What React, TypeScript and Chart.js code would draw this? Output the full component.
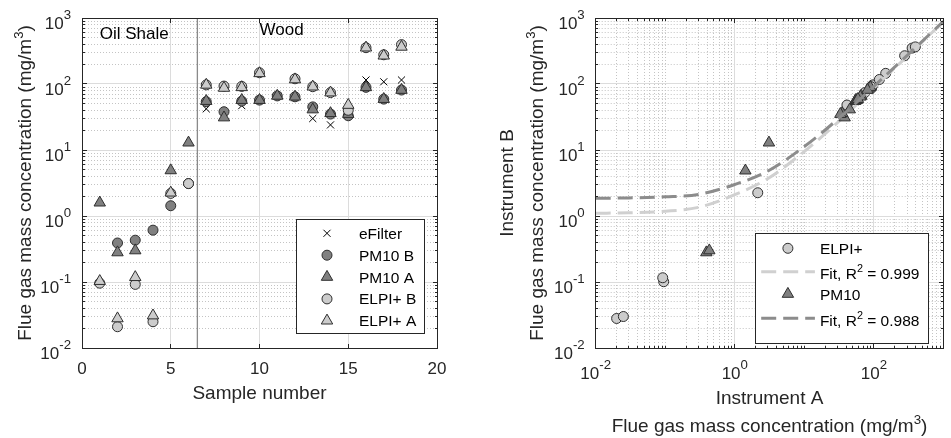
import React, { useEffect, useRef } from "react";
import { Chart, registerables } from "chart.js";
import { drawPoint } from "chart.js/helpers";

Chart.register(...registerables);

// ---------------- data ----------------
const sampleNumbers = [1, 2, 3, 4, 5, 6, 7, 8, 9, 10, 11, 12, 13, 14, 15, 16, 17, 18];
const eFilterValues = [null, null, null, null, null, null, 42, 33, 47, 57, 66, 62, 30, 24, 34, 115, 108, 115];
const pm10BValues = [null, 0.39, 0.43, 0.61, 1.43, 3.1, 54, 38, 55, 57, 66, 64, 45, 35, 33, 89, 59, 81];
const pm10AValues = [1.59, 0.28, 0.3, null, 4.9, 12.9, 55, 31, 57, 57, 66, 64, 41, 36, 35, 89, 59, 81];
const elpiBValues = [0.096, 0.021, 0.092, 0.025, 2.2, 3.1, 97, 93, 92, 148, null, 120, 91, 74, 40, 355, 277, 395];
const elpiAValues = [0.103, 0.028, 0.118, 0.031, 2.25, null, 97, 87, 89, 145, null, 117, 91, 74, 48, 355, 268, 365];

const elpiInstA = [0.095, 0.02, 0.092, 0.025, 2.14, 97, 93, 92, 148, 120, 91, 74, 41, 355, 277, 395];
const elpiInstB = [0.101, 0.028, 0.116, 0.03, 2.25, 97, 87, 89, 145, 117, 91, 74, 48, 350, 268, 365];
const pm10InstA = [0.39, 0.43, 1.42, 3.1, 54, 38, 55, 57, 66, 64, 45, 35, 33, 89, 59, 81];
const pm10InstB = [0.28, 0.3, 4.86, 12.9, 55, 31, 57, 57, 66, 64, 41, 36, 35, 89, 59, 81];

const fitX = [0.01, 0.03, 0.1, 0.3, 1, 3, 10, 30, 100, 300, 1000];
const fitElpiY = [1.1, 1.12, 1.18, 1.35, 2.1, 3.7, 9.5, 26, 87, 262, 880];
const fitPm10Y = [1.85, 1.88, 1.95, 2.12, 3.0, 4.8, 11.3, 29, 92, 270, 890];

const leftXTickValues = [0, 5, 10, 15, 20];
const decadeExponents = [-2, -1, 0, 1, 2, 3];
const rightXLabelExponents = [-2, 0, 2];
const dividerX = 6.5;
const regionNotes = [
  { text: "Oil Shale", x: 1, y: 600 },
  { text: "Wood", x: 10, y: 680 },
];
const leftLegendLabels = ["eFilter", "PM10 B", "PM10 A", "ELPI+ B", "ELPI+ A"];
const r2Elpi = "0.999";
const r2Pm10 = "0.988";

// ---------------- styles ----------------
const FONT_FAMILY = '"Liberation Sans", Arial, Helvetica, sans-serif';
const AXIS_COLOR = "#262626";
const GRID_MAJOR = "#dcdcdc";
const GRID_MINOR = "#c4c4c4";
const DARK_FILL = "#808080";
const LIGHT_FILL = "#cccccc";
const MARKER_EDGE = "#2e2e2e";
const FIT_LIGHT = "#d0d0d0";
const FIT_DARK = "#8c8c8c";
const TICK_FS = 17;
const LABEL_FS = 19;
const LEGEND_FS = 15.5;
const NOTE_FS = 17;

type Part = { t: string; sup?: boolean };
type MarkerStyle = { pointStyle: string; radius: number; fill: string; edge: string; width: number };

const MK = {
  eFilter: { pointStyle: "crossRot", radius: 5, fill: "rgba(0,0,0,0)", edge: "#000000", width: 1 } as MarkerStyle,
  pm10B: { pointStyle: "circle", radius: 5, fill: DARK_FILL, edge: MARKER_EDGE, width: 1 } as MarkerStyle,
  pm10A: { pointStyle: "triangle", radius: 6.6, fill: DARK_FILL, edge: MARKER_EDGE, width: 1 } as MarkerStyle,
  elpiB: { pointStyle: "circle", radius: 5, fill: LIGHT_FILL, edge: MARKER_EDGE, width: 1 } as MarkerStyle,
  elpiA: { pointStyle: "triangle", radius: 6.6, fill: LIGHT_FILL, edge: MARKER_EDGE, width: 1 } as MarkerStyle,
};
const FIT_DASH = [15, 7];
const FIT_WIDTH = 3;

// ---------------- helpers ----------------
const logMinor = (lo: number, hi: number) => {
  const out: number[] = [];
  for (let e = lo; e < hi; e++) for (let m = 2; m <= 9; m++) out.push(m * Math.pow(10, e));
  return out;
};
const pow10Label = (e: number): Part[] => [{ t: "10" }, { t: String(e), sup: true }];

function setFont(ctx: CanvasRenderingContext2D, fs: number) {
  ctx.font = `${fs}px ${FONT_FAMILY}`;
}
function measureParts(ctx: CanvasRenderingContext2D, parts: Part[], fs: number, supScale: number) {
  let w = 0;
  for (const p of parts) {
    setFont(ctx, p.sup ? fs * supScale : fs);
    w += ctx.measureText(p.t).width;
  }
  return w;
}
function fillParts(
  ctx: CanvasRenderingContext2D,
  parts: Part[],
  x: number,
  y: number,
  align: "left" | "center" | "right",
  fs: number,
  supScale = 0.7,
  supRaise = 0.42
) {
  const w = measureParts(ctx, parts, fs, supScale);
  let cx = align === "left" ? x : align === "center" ? x - w / 2 : x - w;
  ctx.textAlign = "left";
  ctx.textBaseline = "alphabetic";
  for (const p of parts) {
    setFont(ctx, p.sup ? fs * supScale : fs);
    ctx.fillText(p.t, cx, p.sup ? y - fs * supRaise : y);
    cx += ctx.measureText(p.t).width;
  }
}
const snap = (v: number) => Math.floor(v) + 0.5;
function seg(ctx: CanvasRenderingContext2D, x1: number, y1: number, x2: number, y2: number) {
  ctx.beginPath();
  ctx.moveTo(x1, y1);
  ctx.lineTo(x2, y2);
  ctx.stroke();
}
function marker(ctx: CanvasRenderingContext2D, st: MarkerStyle, x: number, y: number) {
  ctx.save();
  ctx.fillStyle = st.fill;
  ctx.strokeStyle = st.edge;
  ctx.lineWidth = st.width;
  drawPoint(ctx, { pointStyle: st.pointStyle as any, radius: st.radius, rotation: 0, borderWidth: st.width }, x, y);
  ctx.restore();
}

type LegendRow = { dy: number; parts: Part[]; marker?: MarkerStyle; line?: { color: string } };
interface FrameSpec {
  xMajor: number[];
  xMinor: number[];
  yMajor: number[];
  yMinor: number[];
  xGridMajor: number[];
  xGridMinor: number[];
  yGridMajor: number[];
  yGridMinor: number[];
  xLabels: { v: number; parts: Part[] }[];
  yLabels: { v: number; parts: Part[] }[];
  xLabelBaseline: number;
  xTitles: { parts: Part[]; dy: number }[];
  yTitles: { parts: Part[]; dx: number }[];
  notes?: { text: string; x: number; y: number }[];
  legend: { right: number; bottom: number; width: number; height: number; markerDx: number; lineFrom: number; lineTo: number; textDx: number; rows: LegendRow[] };
}

function makeFramePlugin(spec: FrameSpec) {
  return {
    id: "matlabFrame",
    beforeDatasetsDraw(chart: any) {
      const { ctx, chartArea: a, scales } = chart;
      const xs = scales.x;
      const ys = scales.y;
      ctx.save();
      ctx.beginPath();
      ctx.rect(a.left, a.top, a.right - a.left, a.bottom - a.top);
      ctx.clip();
      ctx.lineWidth = 1;
      ctx.strokeStyle = GRID_MINOR;
      ctx.setLineDash([1, 2]);
      for (const v of spec.xGridMinor) {
        const p = snap(xs.getPixelForValue(v));
        seg(ctx, p, a.top, p, a.bottom);
      }
      for (const v of spec.yGridMinor) {
        const p = snap(ys.getPixelForValue(v));
        seg(ctx, a.left, p, a.right, p);
      }
      ctx.setLineDash([]);
      ctx.strokeStyle = GRID_MAJOR;
      for (const v of spec.xGridMajor) {
        const p = snap(xs.getPixelForValue(v));
        seg(ctx, p, a.top, p, a.bottom);
      }
      for (const v of spec.yGridMajor) {
        const p = snap(ys.getPixelForValue(v));
        seg(ctx, a.left, p, a.right, p);
      }
      ctx.restore();
    },
    afterDatasetsDraw(chart: any) {
      const { ctx, chartArea: a, scales } = chart;
      const xs = scales.x;
      const ys = scales.y;
      const L = snap(a.left);
      const R = snap(a.right);
      const T = snap(a.top);
      const B = snap(a.bottom);
      ctx.save();
      // notes
      if (spec.notes) {
        ctx.fillStyle = "#000";
        for (const n of spec.notes) {
          fillParts(ctx, [{ t: n.text }], xs.getPixelForValue(n.x), ys.getPixelForValue(n.y) + NOTE_FS * 0.358, "left", NOTE_FS);
        }
      }
      // box and ticks
      ctx.strokeStyle = AXIS_COLOR;
      ctx.lineWidth = 1;
      ctx.setLineDash([]);
      ctx.strokeRect(L, T, R - L, B - T);
      const tick = (vals: number[], len: number) => {
        for (const v of vals) {
          const p = snap(xs.getPixelForValue(v));
          seg(ctx, p, B, p, B - len);
          seg(ctx, p, T, p, T + len);
        }
      };
      const ytick = (vals: number[], len: number) => {
        for (const v of vals) {
          const p = snap(ys.getPixelForValue(v));
          seg(ctx, L, p, L + len, p);
          seg(ctx, R, p, R - len, p);
        }
      };
      tick(spec.xMajor, 4.5);
      tick(spec.xMinor, 2.5);
      ytick(spec.yMajor, 4.5);
      ytick(spec.yMinor, 2.5);
      // tick labels
      ctx.fillStyle = AXIS_COLOR;
      for (const l of spec.xLabels) {
        fillParts(ctx, l.parts, xs.getPixelForValue(l.v), a.bottom + spec.xLabelBaseline, "center", TICK_FS, 0.78, 0.56);
      }
      for (const l of spec.yLabels) {
        fillParts(ctx, l.parts, a.left - 11, ys.getPixelForValue(l.v) + 11, "right", TICK_FS, 0.78, 0.56);
      }
      // axis titles
      const cx = (a.left + a.right) / 2;
      const cy = (a.top + a.bottom) / 2;
      for (const t of spec.xTitles) fillParts(ctx, t.parts, cx, a.bottom + t.dy, "center", LABEL_FS);
      for (const t of spec.yTitles) {
        ctx.save();
        ctx.translate(a.left - t.dx, cy);
        ctx.rotate(-Math.PI / 2);
        fillParts(ctx, t.parts, 0, 0, "center", LABEL_FS);
        ctx.restore();
      }
      // legend
      const lg = spec.legend;
      const bx = a.right - lg.right - lg.width;
      const by = a.bottom - lg.bottom - lg.height;
      ctx.fillStyle = "#ffffff";
      ctx.fillRect(bx, by, lg.width, lg.height);
      ctx.strokeStyle = AXIS_COLOR;
      ctx.lineWidth = 1;
      ctx.strokeRect(snap(bx), snap(by), Math.round(lg.width), Math.round(lg.height));
      for (const row of lg.rows) {
        const ry = by + row.dy;
        if (row.marker) marker(ctx, row.marker, bx + lg.markerDx, ry);
        if (row.line) {
          ctx.save();
          ctx.strokeStyle = row.line.color;
          ctx.lineWidth = FIT_WIDTH;
          ctx.setLineDash(FIT_DASH);
          seg(ctx, bx + lg.lineFrom, ry, bx + lg.lineTo, ry);
          ctx.restore();
        }
        ctx.fillStyle = "#000";
        const hasSup = row.parts.some((p) => p.sup);
        fillParts(ctx, row.parts, bx + lg.textDx, ry + LEGEND_FS * 0.358 + (hasSup ? 2 : 0), "left", LEGEND_FS, 0.7, 0.45);
      }
      ctx.restore();
    },
  };
}

const unitParts: Part[] = [{ t: "Flue gas mass concentration (mg/m" }, { t: "3", sup: true }, { t: ")" }];

function scatterSet(label: string, xs: number[], ys: (number | null)[], st: MarkerStyle, order: number) {
  const data = xs.map((x, i) => ({ x, y: ys[i] })).filter((p) => p.y !== null && p.y !== undefined);
  return {
    label,
    data,
    pointStyle: st.pointStyle,
    pointRadius: st.radius,
    pointBackgroundColor: st.fill,
    pointBorderColor: st.edge,
    pointBorderWidth: st.width,
    showLine: false,
    order,
  };
}

function leftConfig(): any {
  const spec: FrameSpec = {
    xMajor: leftXTickValues,
    xMinor: [],
    yMajor: decadeExponents.map((e) => Math.pow(10, e)),
    yMinor: logMinor(-2, 3),
    xGridMajor: leftXTickValues,
    xGridMinor: [],
    yGridMajor: decadeExponents.map((e) => Math.pow(10, e)),
    yGridMinor: logMinor(-2, 3),
    xLabels: leftXTickValues.map((v) => ({ v, parts: [{ t: String(v) }] })),
    yLabels: decadeExponents.map((e) => ({ v: Math.pow(10, e), parts: pow10Label(e) })),
    xLabelBaseline: 25.8,
    xTitles: [{ parts: [{ t: "Sample number" }], dy: 51.3 }],
    yTitles: [{ parts: unitParts, dx: 51.3 }],
    notes: regionNotes,
    legend: {
      right: 13,
      bottom: 15,
      width: 128,
      height: 114,
      markerDx: 31,
      lineFrom: 0,
      lineTo: 0,
      textDx: 63,
      rows: [
        { dy: 14.3, parts: [{ t: leftLegendLabels[0] }], marker: MK.eFilter },
        { dy: 36.2, parts: [{ t: leftLegendLabels[1] }], marker: MK.pm10B },
        { dy: 58.0, parts: [{ t: leftLegendLabels[2] }], marker: MK.pm10A },
        { dy: 79.9, parts: [{ t: leftLegendLabels[3] }], marker: MK.elpiB },
        { dy: 101.7, parts: [{ t: leftLegendLabels[4] }], marker: MK.elpiA },
      ],
    },
  };
  return {
    type: "scatter",
    data: {
      datasets: [
        scatterSet("ELPI+ A", sampleNumbers, elpiAValues, MK.elpiA, 1),
        scatterSet("ELPI+ B", sampleNumbers, elpiBValues, MK.elpiB, 2),
        scatterSet("PM10 A", sampleNumbers, pm10AValues, MK.pm10A, 3),
        scatterSet("PM10 B", sampleNumbers, pm10BValues, MK.pm10B, 4),
        scatterSet("eFilter", sampleNumbers, eFilterValues, MK.eFilter, 5),
        {
          label: "divider",
          data: [
            { x: dividerX, y: 0.01 },
            { x: dividerX, y: 1000 },
          ],
          showLine: true,
          pointRadius: 0,
          borderColor: "#8a8a8a",
          borderWidth: 1.3,
          order: 6,
        },
      ],
    },
    options: {
      animation: false,
      responsive: false,
      devicePixelRatio: 1,
      events: [],
      layout: { padding: { left: 82, top: 18, right: 33, bottom: 90 } },
      plugins: { legend: { display: false }, tooltip: { enabled: false } },
      scales: {
        x: { type: "linear", min: 0, max: 20, display: false },
        y: { type: "logarithmic", min: 0.01, max: 1000, display: false },
      },
    },
    plugins: [makeFramePlugin(spec)],
  };
}

function rightConfig(): any {
  const xMinorAll = logMinor(-2, 3).concat([0.1, 10, 1000]);
  const spec: FrameSpec = {
    xMajor: rightXLabelExponents.map((e) => Math.pow(10, e)),
    xMinor: xMinorAll,
    yMajor: decadeExponents.map((e) => Math.pow(10, e)),
    yMinor: logMinor(-2, 3),
    xGridMajor: rightXLabelExponents.map((e) => Math.pow(10, e)),
    xGridMinor: xMinorAll,
    yGridMajor: decadeExponents.map((e) => Math.pow(10, e)),
    yGridMinor: logMinor(-2, 3),
    xLabels: rightXLabelExponents.map((e) => ({ v: Math.pow(10, e), parts: pow10Label(e) })),
    yLabels: decadeExponents.map((e) => ({ v: Math.pow(10, e), parts: pow10Label(e) })),
    xLabelBaseline: 30.8,
    xTitles: [
      { parts: [{ t: "Instrument A" }], dy: 56 },
      { parts: unitParts, dy: 84 },
    ],
    yTitles: [
      { parts: [{ t: "Instrument B" }], dx: 82.4 },
      { parts: unitParts, dx: 52.7 },
    ],
    legend: {
      right: 14.5,
      bottom: 4.7,
      width: 173,
      height: 110,
      markerDx: 32,
      lineFrom: 5.3,
      lineTo: 59,
      textDx: 64,
      rows: [
        { dy: 15, parts: [{ t: "ELPI+" }], marker: MK.elpiB },
        { dy: 38.5, parts: [{ t: "Fit, R" }, { t: "2", sup: true }, { t: " = " + r2Elpi }], line: { color: FIT_LIGHT } },
        { dy: 60.7, parts: [{ t: "PM10" }], marker: MK.pm10A },
        { dy: 85, parts: [{ t: "Fit, R" }, { t: "2", sup: true }, { t: " = " + r2Pm10 }], line: { color: FIT_DARK } },
      ],
    },
  };
  const fitSet = (label: string, ys: number[], color: string, order: number) => ({
    label,
    data: fitX.map((x, i) => ({ x, y: ys[i] })),
    showLine: true,
    pointRadius: 0,
    borderColor: color,
    borderWidth: FIT_WIDTH,
    borderDash: FIT_DASH,
    cubicInterpolationMode: "monotone",
    order,
  });
  return {
    type: "scatter",
    data: {
      datasets: [
        scatterSet("ELPI+", elpiInstA, elpiInstB, MK.elpiB, 4),
        fitSet("Fit ELPI+", fitElpiY, FIT_LIGHT, 3),
        scatterSet("PM10", pm10InstA, pm10InstB, MK.pm10A, 2),
        fitSet("Fit PM10", fitPm10Y, FIT_DARK, 1),
      ],
    },
    options: {
      animation: false,
      responsive: false,
      devicePixelRatio: 1,
      events: [],
      layout: { padding: { left: 125.7, top: 18, right: 0.5, bottom: 90 } },
      plugins: { legend: { display: false }, tooltip: { enabled: false } },
      scales: {
        x: { type: "logarithmic", min: 0.01, max: 1000, display: false },
        y: { type: "logarithmic", min: 0.01, max: 1000, display: false },
      },
    },
    plugins: [makeFramePlugin(spec)],
  };
}

export default function App() {
  const leftRef = useRef<HTMLCanvasElement>(null);
  const rightRef = useRef<HTMLCanvasElement>(null);
  useEffect(() => {
    const l = new Chart(leftRef.current as HTMLCanvasElement, leftConfig());
    const r = new Chart(rightRef.current as HTMLCanvasElement, rightConfig());
    return () => {
      l.destroy();
      r.destroy();
    };
  }, []);
  return (
    <div style={{ position: "absolute", left: 0, top: 0, width: 951, height: 438, overflow: "hidden", background: "#ffffff" }}>
      <canvas ref={leftRef} width={470} height={438} style={{ position: "absolute", left: 0, top: 0, width: 470, height: 438 }} />
      <canvas ref={rightRef} width={481} height={438} style={{ position: "absolute", left: 470, top: 0, width: 481, height: 438 }} />
    </div>
  );
}
